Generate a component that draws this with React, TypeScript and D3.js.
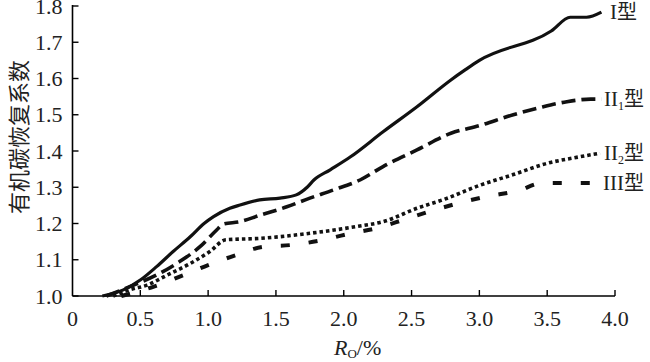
import React from "react";
import * as d3 from "d3";

const xTicks = [0, 0.5, 1.0, 1.5, 2.0, 2.5, 3.0, 3.5, 4.0];
const xTickLabels = ["0", "0.5", "1.0", "1.5", "2.0", "2.5", "3.0", "3.5", "4.0"];
const yTicks = [1.0, 1.1, 1.2, 1.3, 1.4, 1.5, 1.6, 1.7, 1.8];

const typeI: [number, number][] = [
  [0.22, 1.0], [0.375, 1.017], [0.5, 1.044], [0.62, 1.081], [0.74, 1.122],
  [0.87, 1.164], [0.97, 1.2], [1.04, 1.219], [1.16, 1.242], [1.235, 1.251],
  [1.38, 1.265], [1.53, 1.27], [1.65, 1.279], [1.73, 1.3], [1.78, 1.32],
  [1.9, 1.348], [2.05, 1.384], [2.29, 1.453], [2.54, 1.522], [2.79, 1.596],
  [2.9, 1.625], [3.0, 1.65], [3.53, 1.731], [3.67, 1.769], [3.79, 1.769], [3.9, 1.783],
];
const typeII1: [number, number][] = [
  [0.25, 1.0], [0.45, 1.03], [0.62, 1.058], [0.79, 1.095], [0.94, 1.136],
  [1.063, 1.182], [1.11, 1.198], [1.235, 1.205], [1.383, 1.223], [1.58, 1.246],
  [1.75, 1.27], [1.92, 1.292], [2.12, 1.32], [2.29, 1.357], [2.54, 1.403],
  [2.79, 1.449], [3.0, 1.47], [3.25, 1.5], [3.45, 1.52], [3.645, 1.536],
  [3.82, 1.543], [3.9, 1.543],
];
const typeII2: [number, number][] = [
  [0.3, 1.0], [0.42, 1.017], [0.55, 1.03], [0.7, 1.058], [0.87, 1.09],
  [1.01, 1.122], [1.13, 1.155], [1.38, 1.159], [1.75, 1.173], [2.1, 1.192],
  [2.29, 1.205], [2.54, 1.242], [2.75, 1.268], [3.0, 1.305], [3.25, 1.335],
  [3.5, 1.366], [3.74, 1.384], [3.89, 1.394],
];
const typeIII: [number, number][] = [
  [0.36, 1.0], [0.6, 1.026], [0.82, 1.058], [1.0, 1.085], [1.206, 1.113],
  [1.41, 1.136], [1.62, 1.141], [1.825, 1.153], [2.03, 1.171], [2.24, 1.187],
  [2.44, 1.21], [2.65, 1.235], [2.845, 1.256], [3.05, 1.274], [3.28, 1.29],
  [3.47, 1.312], [3.67, 1.312], [3.87, 1.312],
];

const serif = "'Liberation Serif', 'Times New Roman', 'Noto Sans CJK SC', serif";

export default function App() {
  const x = d3.scaleLinear().domain([0, 4]).range([72.5, 615]);
  const y = d3.scaleLinear().domain([1.0, 1.8]).range([296, 6]);
  const line = d3
    .line<[number, number]>()
    .x((d) => x(d[0]))
    .y((d) => y(d[1]))
    .curve(d3.curveMonotoneX);

  const series = [
    { data: typeI, dash: "none", w: 3.2 },
    { data: typeII1, dash: "14,6", w: 3.6 },
    { data: typeII2, dash: "3.5,3", w: 3.6 },
    { data: typeIII, dash: "9,19", w: 4 },
  ];

  const labels = [
    { main: "I", sub: "", v: typeI[typeI.length - 1][1], dx: 610 },
    { main: "II", sub: "1", v: typeII1[typeII1.length - 1][1], dx: 604 },
    { main: "II", sub: "2", v: typeII2[typeII2.length - 1][1], dx: 604 },
    { main: "III", sub: "", v: typeIII[typeIII.length - 1][1], dx: 603 },
  ];

  return (
    <svg
      width={650}
      height={362}
      style={{ position: "absolute", left: 0, top: 0, background: "#fff" }}
      fontFamily={serif}
    >
      <rect x={0} y={0} width={650} height={362} fill="#fff" />
      <line x1={x(0)} x2={x(0)} y1={y(1.8) - 1} y2={y(1.0)} stroke="#000" strokeWidth={1.6} />
      <line x1={x(0)} x2={x(4)} y1={y(1.0)} y2={y(1.0)} stroke="#000" strokeWidth={1.6} />
      {yTicks.map((t) => (
        <g key={"y" + t}>
          <line x1={x(0)} x2={x(0) + 6} y1={y(t)} y2={y(t)} stroke="#000" strokeWidth={1.4} />
          <text x={x(0) - 10} y={y(t) + 7.5} fontSize={22} textAnchor="end" fill="#222">
            {t.toFixed(1)}
          </text>
        </g>
      ))}
      {xTicks.map((t, i) => (
        <g key={"x" + t}>
          {i > 0 && (
            <line x1={x(t)} x2={x(t)} y1={y(1.0)} y2={y(1.0) - 6} stroke="#000" strokeWidth={1.4} />
          )}
          <text x={x(t)} y={326} fontSize={22} textAnchor="middle" fill="#222">
            {xTickLabels[i]}
          </text>
        </g>
      ))}
      <text x={334} y={355} fontSize={22} fill="#222">
        <tspan fontStyle="italic">R</tspan>
        <tspan fontSize={13} dy={3}>O</tspan>
        <tspan dy={-3}>/%</tspan>
      </text>
      <text
        transform={`translate(17,137) rotate(-90)`}
        fontSize={22}
        textAnchor="middle"
        dominantBaseline="central"
        fill="#222"
        fontFamily="'Noto Sans CJK SC', sans-serif"
      >
        有机碳恢复系数
      </text>
      {series.map((s, i) => (
        <path
          key={i}
          d={line(s.data) || ""}
          fill="none"
          stroke="#111"
          strokeWidth={s.w}
          strokeDasharray={s.dash}
          strokeLinejoin="round"
        />
      ))}
      {labels.map((l, i) => (
        <text key={"l" + i} x={l.dx} y={y(l.v) + 7} fontSize={21} fill="#222">
          {l.main}
          {l.sub && (
            <tspan fontSize={12} dy={4}>
              {l.sub}
            </tspan>
          )}
          <tspan dy={l.sub ? -4 : 0} fontSize={20} fontFamily="'Noto Sans CJK SC', sans-serif">
            型
          </tspan>
        </text>
      ))}
    </svg>
  );
}
